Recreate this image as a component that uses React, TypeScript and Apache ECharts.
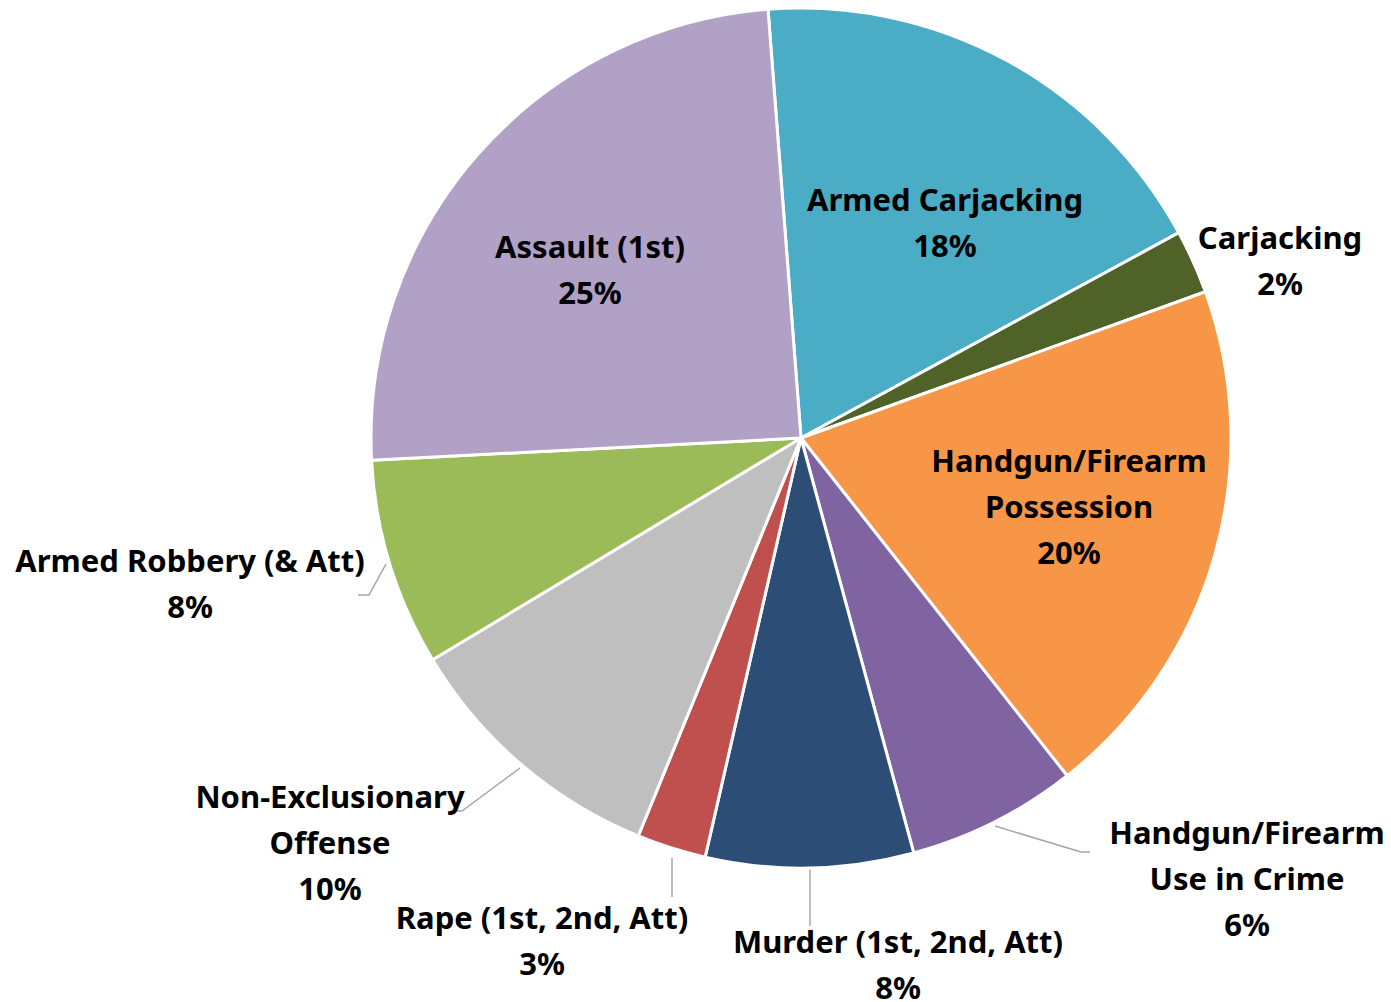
import React, { useEffect, useRef } from "react";
import * as echarts from "echarts";

const categories = [
  "Armed Carjacking",
  "Carjacking",
  "Handgun/Firearm\nPossession",
  "Handgun/Firearm\nUse in Crime",
  "Murder (1st, 2nd, Att)",
  "Rape (1st, 2nd, Att)",
  "Non-Exclusionary\nOffense",
  "Armed Robbery (& Att)",
  "Assault (1st)",
];
const values = [18.3, 2.4, 19.9, 6.4, 7.8, 2.6, 10.2, 7.8, 24.6];
const colors = [
  "#4BACC6",
  "#4F6228",
  "#F79646",
  "#8064A2",
  "#2C4D75",
  "#C0504D",
  "#BFBFBF",
  "#9BBB59",
  "#B2A1C7",
];

// label placement (layout only)
const labelPos: number[][] = [
  [945, 222],
  [1280, 260],
  [1069, 506],
  [1247, 878],
  [898, 964],
  [542, 940],
  [330, 842],
  [190, 583],
  [590, 269],
];
const linePts: (number[][] | null)[] = [
  null,
  null,
  null,
  [[995, 826], [1081, 852], [1090, 852]],
  [[810, 869], [810, 926], [810, 926]],
  [[672, 858], [672, 897], [672, 897]],
  [[520, 768], [462, 811], [450, 811]],
  [[386, 564], [369, 595], [358, 595]],
  null,
];

export default function App() {
  const ref = useRef<HTMLDivElement>(null);
  useEffect(() => {
    if (!ref.current) return;
    const chart = echarts.init(ref.current, null, { renderer: "svg" });
    chart.setOption({
      animation: false,
      backgroundColor: "#ffffff",
      series: [
        {
          type: "pie",
          center: [801, 438],
          radius: 430,
          startAngle: 94.4,
          clockwise: true,
          avoidLabelOverlap: false,
          itemStyle: { borderColor: "#ffffff", borderWidth: 3 },
          label: {
            show: true,
            position: "outside",
            fontFamily: "Noto Sans",
            fontWeight: "bold",
            fontSize: 31,
            lineHeight: 46,
            color: "#000000",
            align: "center",
            formatter: (p: any) => `${p.name}\n${Math.round(p.value)}%`,
          },
          labelLine: {
            show: true,
            lineStyle: { color: "#A6A6A6", width: 1.5 },
          },
          labelLayout: (p: any) => {
            const i = p.dataIndex;
            const res: any = {
              x: labelPos[i][0],
              y: labelPos[i][1],
              align: "center",
              verticalAlign: "middle",
              hideOverlap: false,
            };
            if (linePts[i]) res.labelLinePoints = linePts[i];
            return res;
          },
          data: categories.map((name, i) => ({
            name,
            value: values[i],
            itemStyle: { color: colors[i] },
            labelLine: { show: linePts[i] !== null },
          })),
        },
      ],
    });
    return () => chart.dispose();
  }, []);
  return (
    <div
      ref={ref}
      style={{ position: "fixed", left: 0, top: 0, width: 1391, height: 1002 }}
    />
  );
}
